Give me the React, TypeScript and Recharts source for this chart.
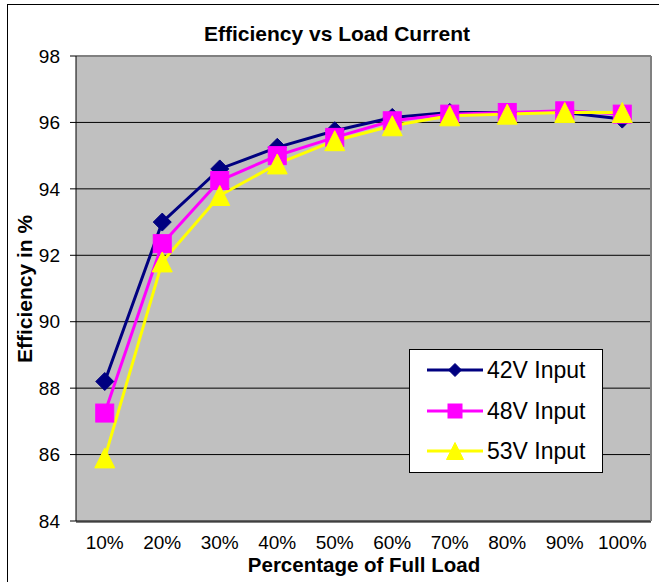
import { LineChart, Line, XAxis, YAxis, CartesianGrid, ReferenceLine, Legend } from "recharts";

const loads = ["10%", "20%", "30%", "40%", "50%", "60%", "70%", "80%", "90%", "100%"];
const eff42V = [88.2, 93.0, 94.6, 95.25, 95.75, 96.15, 96.3, 96.3, 96.3, 96.1];
const eff48V = [87.25, 92.35, 94.25, 95.0, 95.55, 96.05, 96.25, 96.3, 96.35, 96.25];
const eff53V = [85.9, 91.8, 93.8, 94.75, 95.45, 95.9, 96.2, 96.25, 96.3, 96.3];

const seriesNames = ["42V Input", "48V Input", "53V Input"];
const seriesColors = ["#000080", "#FF00FF", "#FFFF00"];
const seriesMarkers = ["diamond", "square", "triangle"];

const yTicks = [84, 86, 88, 90, 92, 94, 96, 98];
const edgeTicks = [0, 1, 2, 3, 4, 5, 6, 7, 8, 9, 10];

const FONT = "'Liberation Sans', Arial, sans-serif";

const data = loads.map((load, i) => ({
  load,
  v42: eff42V[i],
  v48: eff48V[i],
  v53: eff53V[i],
}));

function Marker({ kind, cx, cy, r, color }: { kind: string; cx: number; cy: number; r: number; color: string }) {
  if (cx == null || cy == null) return null;
  if (kind === "diamond") {
    const pts = `${cx},${cy - r} ${cx + r},${cy} ${cx},${cy + r} ${cx - r},${cy}`;
    return <polygon points={pts} fill={color} stroke={color} strokeWidth={1} />;
  }
  if (kind === "square") {
    return <rect x={cx - r} y={cy - r} width={r * 2} height={r * 2} fill={color} stroke={color} strokeWidth={1} />;
  }
  const pts = `${cx},${cy - r} ${cx + r},${cy + r} ${cx - r},${cy + r}`;
  return <polygon points={pts} fill={color} stroke={color} strokeWidth={1} />;
}

const makeDot = (idx: number, r: number) => (p: any) => (
  <Marker key={`m${idx}-${p.index}`} kind={seriesMarkers[idx]} cx={p.cx} cy={p.cy} r={r} color={seriesColors[idx]} />
);

const renderLegend = (props: any) => {
  const payload = props.payload ?? [];
  return (
    <div
      style={{
        width: 194,
        height: 124,
        background: "#fff",
        border: "1px solid #000",
        boxSizing: "border-box",
        position: "relative",
        fontFamily: FONT,
      }}
    >
      {payload.map((entry: any, i: number) => {
        const idx = seriesNames.indexOf(entry.value);
        const k = idx >= 0 ? idx : i;
        const top = 20 + i * 40.5 - 15;
        return (
          <div key={entry.value} style={{ position: "absolute", left: 0, top, height: 30, width: 192 }}>
            <svg width={80} height={30} style={{ position: "absolute", left: 0, top: 0 }}>
              <line x1={17} y1={15} x2={73} y2={15} stroke={seriesColors[k]} strokeWidth={3} />
              <Marker kind={seriesMarkers[k]} cx={45} cy={15} r={k === 0 ? 6.5 : k === 1 ? 7 : 8.5} color={seriesColors[k]} />
            </svg>
            <span
              style={{
                position: "absolute",
                left: 77,
                top: 0,
                lineHeight: "30px",
                fontSize: 23,
                color: "#000",
                whiteSpace: "nowrap",
              }}
            >
              {seriesNames[k]}
            </span>
          </div>
        );
      })}
    </div>
  );
};

export default function App() {
  const tickStyle = { fontSize: 19, fill: "#000", fontFamily: FONT };
  return (
    <div style={{ position: "absolute", left: 0, top: 0, width: 659, height: 582, background: "#fff" }}>
      <LineChart
        width={659}
        height={582}
        data={data}
        margin={{ top: 56, right: 7, bottom: 1, left: 0 }}
        style={{ fontFamily: FONT }}
      >
        <CartesianGrid xAxisId="cat" vertical={false} fill="#C0C0C0" fillOpacity={1} stroke="#000" />
        <XAxis
          xAxisId="cat"
          dataKey="load"
          scale="band"
          height={1}
          axisLine={false}
          tickLine={false}
          tickMargin={9}
          interval={0}
          tick={tickStyle}
        />
        {/* tick marks between the categories */}
        <XAxis
          xAxisId="edge"
          type="number"
          domain={[0, 10]}
          ticks={edgeTicks}
          allowDataOverflow
          height={59}
          tick={false}
          tickSize={6}
          axisLine={{ stroke: "#000" }}
          tickLine={{ stroke: "#000" }}
        />
        <YAxis
          width={76}
          domain={[84, 98]}
          ticks={yTicks}
          interval={0}
          tickSize={6}
          tickMargin={10}
          tick={tickStyle}
          axisLine={{ stroke: "#000" }}
          tickLine={{ stroke: "#000" }}
        />
        <YAxis
          yAxisId="r"
          orientation="right"
          width={1}
          domain={[84, 98]}
          tick={false}
          tickLine={false}
          axisLine={{ stroke: "#808080", strokeWidth: 2 }}
        />
        <ReferenceLine xAxisId="cat" y={98} stroke="#808080" strokeWidth={2} />
        <Line
          xAxisId="cat"
          dataKey="v42"
          name={seriesNames[0]}
          type="linear"
          stroke={seriesColors[0]}
          strokeWidth={3}
          dot={makeDot(0, 9)}
          activeDot={false}
          isAnimationActive={false}
        />
        <Line
          xAxisId="cat"
          dataKey="v48"
          name={seriesNames[1]}
          type="linear"
          stroke={seriesColors[1]}
          strokeWidth={3}
          dot={makeDot(1, 9)}
          activeDot={false}
          isAnimationActive={false}
        />
        <Line
          xAxisId="cat"
          dataKey="v53"
          name={seriesNames[2]}
          type="linear"
          stroke={seriesColors[2]}
          strokeWidth={3}
          dot={makeDot(2, 10)}
          activeDot={false}
          isAnimationActive={false}
        />
        <Legend
          layout="vertical"
          align="center"
          verticalAlign="middle"
          wrapperStyle={{ left: 409, top: 349, width: 194, height: 124 }}
          content={renderLegend}
        />
      </LineChart>
      <svg
        width={659}
        height={582}
        style={{ position: "absolute", left: 0, top: 0, pointerEvents: "none" }}
      >
        <rect x={7.5} y={4.5} width={700} height={700} fill="none" stroke="#000" strokeWidth={1} />
        <text x={337} y={41} textAnchor="middle" fontFamily={FONT} fontSize={21} fontWeight="bold" fill="#000">
          Efficiency vs Load Current
        </text>
        <text x={364} y={572} textAnchor="middle" fontFamily={FONT} fontSize={20.5} fontWeight="bold" fill="#000">
          Percentage of Full Load
        </text>
        <text
          x={32}
          y={289}
          textAnchor="middle"
          transform="rotate(-90, 32, 289)"
          fontFamily={FONT}
          fontSize={21}
          fontWeight="bold"
          fill="#000"
        >
          Efficiency in %
        </text>
      </svg>
    </div>
  );
}
